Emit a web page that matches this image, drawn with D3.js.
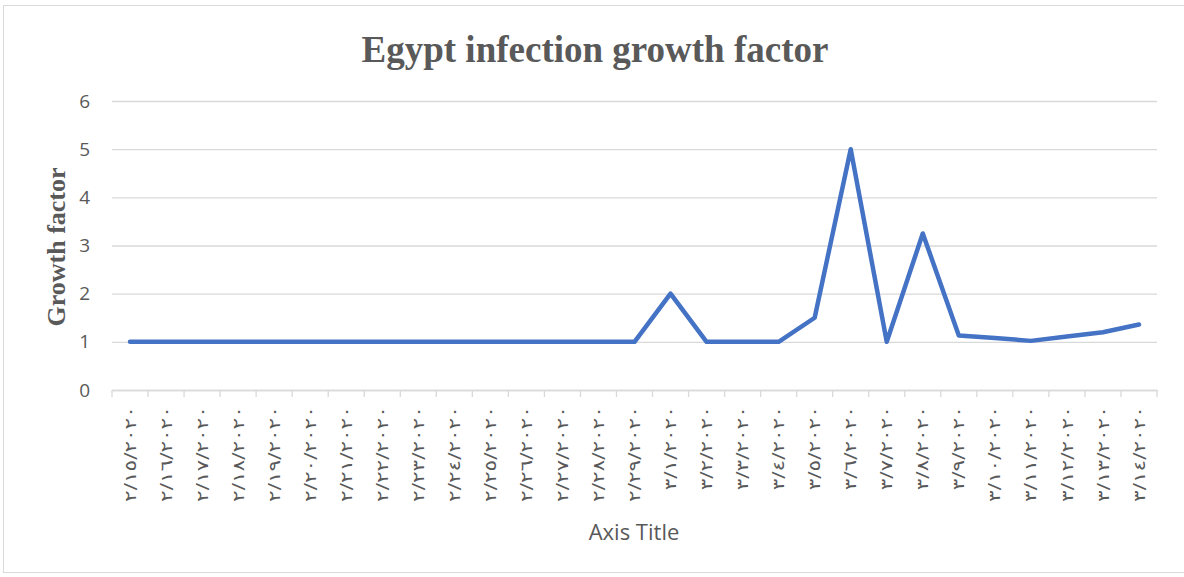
<!DOCTYPE html>
<html>
<head>
<meta charset="utf-8">
<script src="https://cdn.jsdelivr.net/npm/d3@7"></script>
<style>
  body { margin: 0; background: #fff; }
  .tick text { fill: #595959; }
</style>
</head>
<body>
<script>
// dates shown as Arabic-Indic labels, 15 Feb - 14 Mar 2020
const dates = [
  "٢/١٥/٢٠٢٠", "٢/١٦/٢٠٢٠", "٢/١٧/٢٠٢٠", "٢/١٨/٢٠٢٠", "٢/١٩/٢٠٢٠",
  "٢/٢٠/٢٠٢٠", "٢/٢١/٢٠٢٠", "٢/٢٢/٢٠٢٠", "٢/٢٣/٢٠٢٠", "٢/٢٤/٢٠٢٠",
  "٢/٢٥/٢٠٢٠", "٢/٢٦/٢٠٢٠", "٢/٢٧/٢٠٢٠", "٢/٢٨/٢٠٢٠", "٢/٢٩/٢٠٢٠",
  "٣/١/٢٠٢٠", "٣/٢/٢٠٢٠", "٣/٣/٢٠٢٠", "٣/٤/٢٠٢٠", "٣/٥/٢٠٢٠",
  "٣/٦/٢٠٢٠", "٣/٧/٢٠٢٠", "٣/٨/٢٠٢٠", "٣/٩/٢٠٢٠", "٣/١٠/٢٠٢٠",
  "٣/١١/٢٠٢٠", "٣/١٢/٢٠٢٠", "٣/١٣/٢٠٢٠", "٣/١٤/٢٠٢٠"
];
const growth = [
  1, 1, 1, 1, 1, 1, 1, 1, 1, 1, 1, 1, 1, 1, 1,
  2, 1, 1, 1, 1.5, 5, 1, 3.25, 1.13, 1.08, 1.02, 1.11, 1.2, 1.36
];
const yTicks = [0, 1, 2, 3, 4, 5, 6];

const w = 1184, h = 577;
const padLeft = 112, padRight = 1157, padTop = 101, padBottom = 390;

const svg = d3.select("body").append("svg")
    .attr("width", w)
    .attr("height", h);

// chart border
svg.append("rect")
    .attr("x", 3.5).attr("y", 5.5)
    .attr("width", 1200).attr("height", 567)
    .attr("fill", "none")
    .attr("stroke", "#d9d9d9");

const xScale = d3.scaleBand()
    .domain(dates)
    .range([padLeft, padRight]);

const yScale = d3.scaleLinear()
    .domain([0, 6])
    .range([padBottom, padTop]);

// gridlines + y labels
const yAxis = svg.append("g")
    .attr("transform", "translate(" + padLeft + ",0)")
    .call(d3.axisLeft(yScale).tickValues(yTicks).tickFormat(d3.format("d"))
        .tickSize(-(padRight - padLeft)).tickPadding(22));
yAxis.select(".domain").remove();
yAxis.selectAll("line").attr("stroke", "#d9d9d9").attr("stroke-width", 1.3);
yAxis.selectAll("text")
    .attr("font-family", "'Open Sans', 'Liberation Sans', sans-serif")
    .attr("font-size", 19);

// x axis - labels stretched along the text direction to match the wide spacing
const xAxis = svg.append("g")
    .attr("transform", "translate(0," + padBottom + ")")
    .call(d3.axisBottom(xScale).tickSize(0));
xAxis.select(".domain").attr("stroke", "#d9d9d9").attr("stroke-width", 1.3);
xAxis.selectAll("text")
    .attr("font-family", "'DejaVu Sans', sans-serif")
    .attr("font-size", 16)
    .attr("text-anchor", "end")
    .attr("transform", "rotate(-90) scale(1.35,1)")
    .attr("x", -12)
    .attr("y", 0)
    .attr("dy", "0.35em");

// boundary tick marks between categories
svg.append("g").selectAll("line")
    .data(d3.range(dates.length + 1))
    .enter()
    .append("line")
    .attr("x1", function (i) { return padLeft + i * xScale.step(); })
    .attr("x2", function (i) { return padLeft + i * xScale.step(); })
    .attr("y1", padBottom)
    .attr("y2", padBottom + 7)
    .attr("stroke", "#d9d9d9")
    .attr("stroke-width", 1.3);

// the line
const line = d3.line()
    .x(function (d, i) { return xScale(dates[i]) + xScale.bandwidth() / 2; })
    .y(function (d) { return yScale(d); });

svg.append("path")
    .datum(growth)
    .attr("d", line)
    .attr("fill", "none")
    .attr("stroke", "#4472C4")
    .attr("stroke-width", 4.5)
    .attr("stroke-linejoin", "round")
    .attr("stroke-linecap", "round");

// title
svg.append("text")
    .attr("x", 595).attr("y", 62)
    .attr("text-anchor", "middle")
    .attr("font-family", "'Liberation Serif', 'Times New Roman', serif")
    .attr("font-weight", "bold")
    .attr("font-size", 37)
    .attr("fill", "#595959")
    .text("Egypt infection growth factor");

// y axis title
svg.append("text")
    .attr("text-anchor", "middle")
    .attr("transform", "translate(65,247)rotate(-90)")
    .attr("font-family", "'Liberation Serif', 'Times New Roman', serif")
    .attr("font-weight", "bold")
    .attr("font-size", 26)
    .attr("fill", "#595959")
    .text("Growth factor");

// x axis title
svg.append("text")
    .attr("x", 634).attr("y", 540)
    .attr("text-anchor", "middle")
    .attr("font-family", "'Open Sans', 'Liberation Sans', sans-serif")
    .attr("font-size", 22)
    .attr("fill", "#595959")
    .text("Axis Title");
</script>
</body>
</html>
